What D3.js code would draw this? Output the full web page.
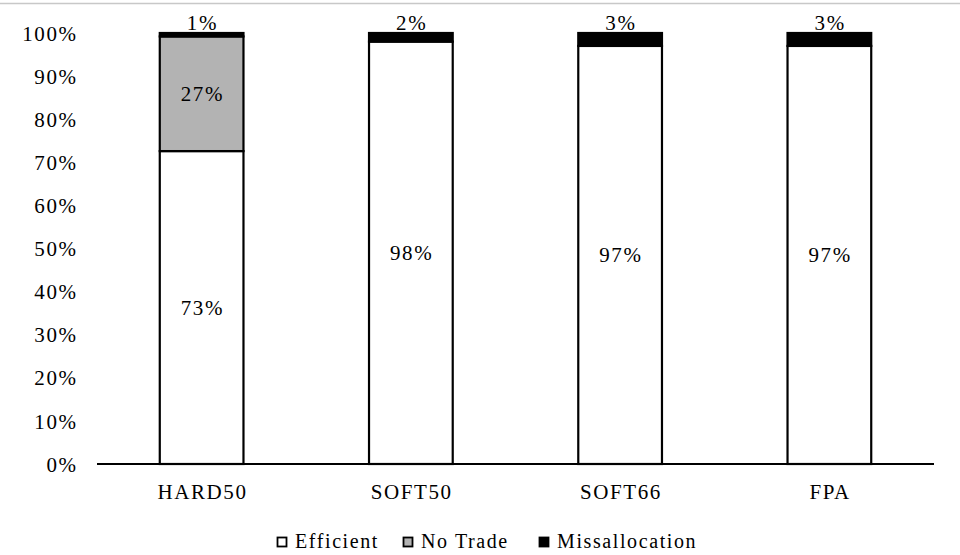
<!DOCTYPE html>
<html>
<head>
<meta charset="utf-8">
<script src="https://cdn.jsdelivr.net/npm/d3@7"></script>
<style>
  html, body { margin: 0; padding: 0; background: #fff; }
  svg { display: block; }
  text { font-family: "Liberation Serif", "Times New Roman", serif; fill: #000; }
</style>
</head>
<body>
<svg id="chart" width="960" height="555"></svg>
<script>
// Outcome shares per mechanism (percent)
const categories = ["HARD50", "SOFT50", "SOFT66", "FPA"];
const seriesNames = ["Efficient", "No Trade", "Missallocation"];
const efficient = [72.6, 98, 97, 97];
const noTrade = [26.6, 0, 0, 0];
const missallocation = [0.8, 2, 3, 3];
const yTicks = [0, 10, 20, 30, 40, 50, 60, 70, 80, 90, 100];
const seriesColors = ["#ffffff", "#b3b3b3", "#000000"];

const svg = d3.select("#chart");
const W = 960, H = 555;
const margin = { top: 33, right: 26, bottom: 91, left: 97 };
const innerW = W - margin.left - margin.right;
const innerH = H - margin.top - margin.bottom;
const LS = 1.6; // letter spacing for all labels

// thin frame line along the top edge
svg.append("line")
  .attr("x1", 0).attr("x2", W).attr("y1", 3.5).attr("y2", 3.5)
  .attr("stroke", "#c8c8c8").attr("stroke-width", 1.5);

const g = svg.append("g").attr("transform", `translate(${margin.left},${margin.top})`);

const x = d3.scaleBand().domain(categories).range([0, innerW]).paddingInner(0.6).paddingOuter(0.3);
const y = d3.scaleLinear().domain([0, 100]).range([innerH, 0]);

const rows = categories.map((c, i) => ({
  cat: c,
  "Efficient": efficient[i],
  "No Trade": noTrade[i],
  "Missallocation": missallocation[i]
}));
const stacked = d3.stack().keys(seriesNames)(rows);

// y tick labels (no axis line)
const yAxis = d3.axisLeft(y).tickValues(yTicks).tickFormat(d => d + "%").tickSize(0).tickPadding(21 - LS);
const yg = g.append("g").call(yAxis);
yg.select(".domain").remove();
yg.selectAll("text").attr("font-size", 21).attr("font-family", "Liberation Serif")
  .attr("letter-spacing", LS).attr("dy", "0.34em").attr("fill", "#000");

// stacked bars
stacked.forEach((layer, si) => {
  g.append("g").selectAll("rect")
    .data(layer.filter(d => d[1] - d[0] > 0))
    .join("rect")
    .attr("x", d => x(d.data.cat))
    .attr("width", x.bandwidth())
    .attr("y", d => y(d[1]))
    .attr("height", d => y(d[0]) - y(d[1]))
    .attr("fill", seriesColors[si])
    .attr("stroke", "#000")
    .attr("stroke-width", 2.2);
});

// x axis baseline + category labels
const xAxis = d3.axisBottom(x).tickSize(0).tickPadding(20);
const xg = g.append("g").attr("transform", `translate(0,${innerH})`).call(xAxis);
xg.select(".domain").attr("stroke", "#000").attr("stroke-width", 2).attr("d", `M0,0H${innerW}`);
xg.selectAll("text").attr("font-size", 21).attr("font-family", "Liberation Serif")
  .attr("letter-spacing", LS).attr("dx", LS / 2).attr("fill", "#000");

// value labels
const fmt = v => Math.round(v) + "%";
stacked.forEach((layer, si) => {
  layer.forEach(d => {
    const v = d[1] - d[0];
    if (v <= 0) return;
    const cx = x(d.data.cat) + x.bandwidth() / 2 + LS / 2;
    const isTop = seriesNames[si] === "Missallocation";
    g.append("text")
      .attr("x", cx)
      .attr("y", isTop ? y(d[1]) - 3 : (y(d[0]) + y(d[1])) / 2)
      .attr("dy", isTop ? 0 : "0.35em")
      .attr("text-anchor", "middle")
      .attr("font-size", 21)
      .attr("letter-spacing", LS)
      .text(fmt(v));
  });
});

// legend
const legendY = 548;
const legend = svg.append("g");
const items = [
  { name: "Efficient", x: 277 },
  { name: "No Trade", x: 403 },
  { name: "Missallocation", x: 539 }
];
items.forEach((it, i) => {
  legend.append("rect")
    .attr("x", it.x + 0.5).attr("y", legendY - 10.5)
    .attr("width", 9).attr("height", 9)
    .attr("fill", seriesColors[i]).attr("stroke", "#000").attr("stroke-width", 1.8);
  legend.append("text")
    .attr("x", it.x + 18).attr("y", legendY)
    .attr("font-size", 20)
    .attr("letter-spacing", LS)
    .text(it.name);
});
</script>
</body>
</html>
